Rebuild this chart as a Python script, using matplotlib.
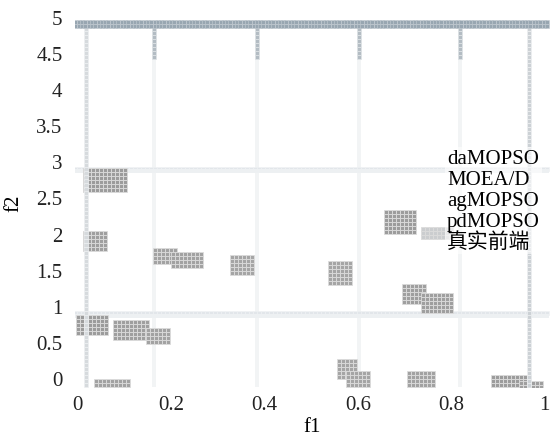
import numpy as np
import matplotlib
matplotlib.use("Agg")
import matplotlib.pyplot as plt
from matplotlib.lines import Line2D

plt.rcParams['font.family'] = ['Liberation Serif', 'Noto Sans CJK SC', 'DejaVu Sans']

# ---- data ----
series_names = ["daMOPSO", "MOEA/D", "agMOPSO", "pdMOPSO", "真实前端"]
x_ticks = [0, 0.2, 0.4, 0.6, 0.8, 1]
x_tick_labels = ["0", "0.2", "0.4", "0.6", "0.8", "1"]
y_ticks = [0, 0.5, 1, 1.5, 2, 2.5, 3, 3.5, 4, 4.5, 5]
y_tick_labels = ["0", "0.5", "1", "1.5", "2", "2.5", "3", "3.5", "4", "4.5", "5"]

# dense clusters of solutions: x-min, x-max, f2-min, f2-max
cluster_x0 = [0.015, 0.015, 0.165, 0.205, 0.330, 0.540, 0.660, 0.700, 0.740, 0.000, 0.080, 0.150, 0.560, 0.580, 0.710, 0.890, 0.950, 0.040, 0.740]
cluster_x1 = [0.105, 0.062, 0.210, 0.265, 0.375, 0.585, 0.720, 0.745, 0.800, 0.065, 0.150, 0.195, 0.600, 0.625, 0.765, 0.970, 1.000, 0.110, 0.800]
cluster_y0 = [2.60, 1.78, 1.60, 1.55, 1.45, 1.32, 2.02, 1.05, 0.93, 0.62, 0.55, 0.50, 0.02, -0.10, -0.10, -0.10, -0.12, -0.10, 1.95]
cluster_y1 = [2.90, 2.05, 1.82, 1.75, 1.72, 1.60, 2.30, 1.30, 1.20, 0.88, 0.80, 0.72, 0.25, 0.10, 0.08, 0.05, -0.02, -0.02, 2.10]
cluster_series = [0, 1, 2, 2, 3, 3, 0, 1, 1, 0, 1, 2, 3, 3, 2, 0, 1, 2, 4]

# true front: straight segments
front_h_y = [4.925, 4.88]         # top horizontal band
front_h2_y = [2.90, 0.90]         # faint horizontal bands
front_v_x = [0.017, 0.968]        # full-height columns
front_short_x = [0.164, 0.384, 0.603, 0.820]  # short columns at top

fig = plt.figure(figsize=(5.5, 4.39), dpi=100)
ax = fig.add_axes([75/550, (439-388)/439, 475/550, 370/439])
ax.set_xlim(-0.006, 1.012)
ax.set_ylim(-0.125, 5.0)

dx = 4/467
dy = 4/72.2
ms = 8.0

# faint background texture
for xv in front_short_x:
    yy = np.arange(-0.1, 4.86, dy)
    ax.scatter(np.full_like(yy, xv), yy, marker='s', s=ms, c='#f2f4f5', linewidths=0)
for yv in front_h2_y:
    xx = np.arange(-0.005, 1.011, dx)
    ax.scatter(xx, np.full_like(xx, yv), marker='s', s=ms, c='#e2e6ea', edgecolors='#f0f2f4', linewidths=0.4)
    ax.scatter(xx, np.full_like(xx, yv - 0.04), marker='s', s=ms, c='#edf0f2', linewidths=0)

cols = ['#9c9c9c', '#9f9f9f', '#a2a2a2', '#a5a5a5', '#cbcdcf']
for x0, x1, y0, y1, si in zip(cluster_x0, cluster_x1, cluster_y0, cluster_y1, cluster_series):
    gx, gy = np.meshgrid(np.arange(x0, x1 + 1e-9, dx), np.arange(y0, y1 + 1e-9, dy))
    ax.scatter(gx.ravel(), gy.ravel(), marker='s', s=ms, c=cols[si],
               edgecolors='#dcdcdc', linewidths=0.6)

for xv, c in zip(front_v_x, ['#d6dadd', '#ccd1d5']):
    yy = np.arange(-0.1, 4.86, dy)
    ax.scatter(np.full_like(yy, xv), yy, marker='s', s=ms + 2, c=c, edgecolors='#eef0f2', linewidths=0.5)
for xv in front_short_x:
    yy = np.arange(4.45, 4.86, dy)
    ax.scatter(np.full_like(yy, xv), yy, marker='s', s=ms, c='#b3bcc3', edgecolors='#e0e4e7', linewidths=0.5)
for yv in front_h_y:
    xx = np.arange(-0.005, 1.011, 3.3/467)
    ax.scatter(xx, np.full_like(xx, yv), marker='s', s=7, c='#98a6b1',
               edgecolors='#c4ccd3', linewidths=0.4)

for s in ax.spines.values():
    s.set_visible(False)
ax.set_xticks(x_ticks, x_tick_labels)
ax.set_yticks(y_ticks, y_tick_labels)
ax.tick_params(length=0, labelsize=15, colors='#222222')
ax.tick_params(axis='x', pad=6)
ax.tick_params(axis='y', pad=9)
ax.set_xlabel('f1', fontsize=15, labelpad=2)
ax.set_ylabel('f2', fontsize=15, labelpad=9)

handles = [Line2D([], [], linestyle='none', marker=None) for _ in series_names]
leg = ax.legend(handles, series_names, loc='upper left', bbox_to_anchor=(0.757, 0.678),
                frameon=True, fontsize=15, handlelength=0, handletextpad=0,
                labelspacing=0.06, borderpad=0.1, facecolor='white', edgecolor='none',
                framealpha=0.6)

fig.savefig('out.png', dpi=100)
